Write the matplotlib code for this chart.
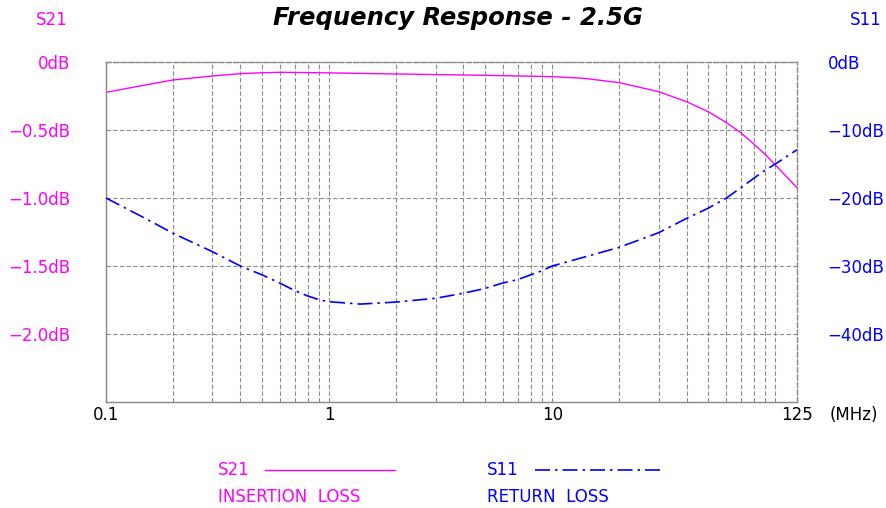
import numpy as np
import matplotlib
matplotlib.use("Agg")
import matplotlib.pyplot as plt
from matplotlib.ticker import FixedLocator, NullFormatter

freq_s21 = [0.1, 0.15, 0.2, 0.3, 0.4, 0.5, 0.6, 0.7, 1, 2, 5, 8.8, 10, 13.9, 20, 30,
            40, 50, 60, 70, 80, 90, 100, 125]
s21_db = [-0.223, -0.169, -0.132, -0.103, -0.086, -0.079, -0.076, -0.077, -0.08, -0.088,
          -0.098, -0.106, -0.108, -0.12, -0.152, -0.218, -0.292, -0.365, -0.443, -0.52,
          -0.603, -0.679, -0.757, -0.925]

freq_s11 = [0.1, 0.15, 0.2, 0.3, 0.4, 0.5, 0.6, 0.7, 0.8, 0.91, 1.0, 1.38, 2, 3, 4, 5,
            6, 7, 8, 9, 10, 20, 30, 40, 50, 60, 70, 80, 90, 100, 125]
s11_db = [-20.0, -23.0, -25.2, -27.9, -30.0, -31.3, -32.5, -33.6, -34.4, -35.0, -35.25,
          -35.6, -35.3, -34.75, -34.0, -33.3, -32.5, -32.0, -31.3, -30.7, -30.0, -27.25,
          -25.1, -23.0, -21.5, -20.05, -18.5, -17.1, -15.9, -15.0, -12.9]

left_ticks = [0, -0.5, -1.0, -1.5, -2.0]
left_labels = ["0dB", "\u22120.5dB", "\u22121.0dB", "\u22121.5dB", "\u22122.0dB"]
right_ticks = [0, -10, -20, -30, -40]
right_labels = ["0dB", "\u221210dB", "\u221220dB", "\u221230dB", "\u221240dB"]
x_ticks = [0.1, 1, 10, 125]
x_labels = ["0.1", "1", "10", "125"]

MAG = "#ff00ff"
BLUE = "#0000ff"
GRID = "#8c8c8c"
FS = 12

plt.rcParams["font.family"] = ["DejaVu Sans"]

fig = plt.figure(figsize=(8.87, 5.08), dpi=100)
ax = fig.add_axes([106 / 887, 1 - 402 / 508, 691 / 887, 340 / 508])
ax2 = ax.twinx()

ax.set_xscale("log")
ax.set_xlim(0.1, 125)
ax.set_ylim(-2.5, 0)
ax2.set_ylim(-50, 0)

# grid: minor log lines + major horizontal lines
minor = [m * 10.0 ** e for e in (-1, 0, 1) for m in range(1, 10)] + [100]
minor = [v for v in minor if 0.1 < v < 125]
dash = (0, (4, 2))
for v in minor:
    ax.axvline(v, color=GRID, lw=0.8, ls=dash, zorder=0)
for v in left_ticks:
    ax.axhline(v, color=GRID, lw=0.8, ls=dash, zorder=0)

for a in (ax, ax2):
    a.spines["top"].set_linestyle(dash)
    a.spines["right"].set_linestyle(dash)
    for s in a.spines.values():
        s.set_color(GRID)
        s.set_linewidth(0.9)

ax.plot(freq_s21, s21_db, color=MAG, lw=1.0, zorder=3)
ax2.plot(freq_s11, s11_db, color=BLUE, lw=1.2, ls=(0, (9, 3, 1.5, 3)), zorder=3)

ax.xaxis.set_major_locator(FixedLocator(x_ticks))
ax.xaxis.set_minor_formatter(NullFormatter())
ax.set_xticklabels(x_labels)
ax.set_yticks(left_ticks)
ax.set_yticklabels(left_labels)
ax2.set_yticks(right_ticks)
ax2.set_yticklabels(right_labels)

ax.tick_params(axis="x", which="both", length=0, pad=3, labelsize=FS, labelcolor="black")
ax.tick_params(axis="y", length=0, pad=26, labelsize=FS, labelcolor=MAG)
ax2.tick_params(axis="y", length=0, pad=22, labelsize=FS, labelcolor=BLUE)

fig.text(830 / 887, 1 - 415 / 508, "(MHz)", fontsize=FS, va="center", ha="left")

fig.text(458 / 887, 1 - 18 / 508, "Frequency Response - 2.5G", fontsize=17.5,
         fontweight="bold", fontstyle="italic", ha="center", va="center")
fig.text(52 / 887, 1 - 20 / 508, "S21", color=MAG, fontsize=FS, ha="center", va="center")
fig.text(866 / 887, 1 - 20 / 508, "S11", color=BLUE, fontsize=FS, ha="center", va="center")

# legend drawn by hand under the plot
fig.text(218 / 887, 1 - 470 / 508, "S21", color=MAG, fontsize=FS, va="center")
fig.text(218 / 887, 1 - 497 / 508, "INSERTION  LOSS", color=MAG, fontsize=FS, va="center")
fig.add_artist(plt.Line2D([265 / 887, 395 / 887], [1 - 470 / 508] * 2, color=MAG, lw=1.0))
fig.text(487 / 887, 1 - 470 / 508, "S11", color=BLUE, fontsize=FS, va="center")
fig.text(487 / 887, 1 - 497 / 508, "RETURN  LOSS", color=BLUE, fontsize=FS, va="center")
fig.add_artist(plt.Line2D([535 / 887, 665 / 887], [1 - 470 / 508] * 2, color=BLUE, lw=1.2,
                          ls=(0, (9, 3, 1.5, 3))))

fig.savefig("out.png", dpi=100)
